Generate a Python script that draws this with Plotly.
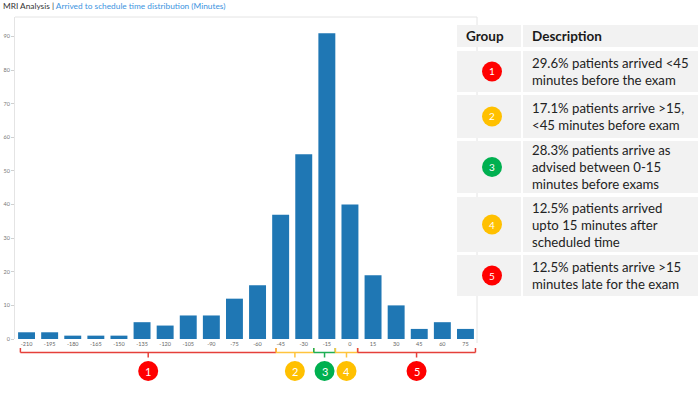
import plotly.graph_objects as go

# ---------------- data ----------------
minutes = [-210, -195, -180, -165, -150, -135, -120, -105, -90, -75,
           -60, -45, -30, -15, 0, 15, 30, 45, 60, 75]
patients = [2, 2, 1, 1, 1, 5, 4, 7, 7, 12, 16, 37, 55, 91, 40, 19, 10, 3, 5, 3]
y_ticks = [0, 10, 20, 30, 40, 50, 60, 70, 80, 90]
group_ids = ["1", "2", "3", "4", "5"]
group_desc = [
    "29.6% patients arrived &lt;45<br>minutes before the exam",
    "17.1% patients arrive &gt;15,<br>&lt;45 minutes before exam",
    "28.3% patients arrive as<br>advised between 0-15<br>minutes before exams",
    "12.5% patients arrived<br>upto 15 minutes after<br>scheduled time",
    "12.5% patients arrive &gt;15<br>minutes late for the exam",
]
title_a = "MRI Analysis | "
title_b = "Arrived to schedule time distribution (Minutes)"

# ---------------- layout / style ----------------
W, H = 700, 394
ML, MR, MT, MB = 15, 223, 17, 55
PW, PH = W - ML - MR, H - MT - MB
BOTTOM = H - MB
X_RANGE = [-217.5, 82.5]

def px_x(px):
    return (px - ML) / PW

def px_y(py):
    return (BOTTOM - py) / PH

def x_per_px():
    return (X_RANGE[1] - X_RANGE[0]) / PW

group_colors = ["#ff0000", "#ffc000", "#00b050", "#ffc000", "#ff0000"]
bracket_colors = ["#e5403a", "#ffc43d", "#1fae55", "#ffc43d", "#e5403a"]
# bracket edges in x-axis (minute) units
bracket_edges = [-214, -48, -23.5, -9.5, 5, 81.5]

fig = go.Figure()
fig.add_trace(go.Bar(x=minutes, y=patients, width=11, marker_color="#1f77b4",
                     marker_line_width=0, hoverinfo="x+y"))

shapes = []
annotations = []
# chart frame (top + right)
shapes.append(dict(type="line", xref="paper", yref="paper", x0=0, x1=1, y0=1, y1=1,
                   line=dict(color="#e4e4e4", width=1)))
shapes.append(dict(type="line", xref="paper", yref="paper", x0=1, x1=1, y0=px_y(343), y1=1,
                   line=dict(color="#e4e4e4", width=1)))

# brackets
y_line = px_y(352.5)
y_up = px_y(348)
y_down = px_y(357.5)
CR = 10
circle_py = 371
for i in range(5):
    a, b = bracket_edges[i], bracket_edges[i + 1]
    m = (a + b) / 2
    c = bracket_colors[i]
    ln = dict(color=c, width=1.5)
    shapes.append(dict(type="line", xref="x", yref="paper", x0=a, x1=b, y0=y_line, y1=y_line, line=ln))
    shapes.append(dict(type="line", xref="x", yref="paper", x0=a, x1=a, y0=y_up, y1=y_line, line=ln))
    shapes.append(dict(type="line", xref="x", yref="paper", x0=b, x1=b, y0=y_up, y1=y_line, line=ln))
    shapes.append(dict(type="line", xref="x", yref="paper", x0=m, x1=m, y0=y_line, y1=y_down, line=ln))
    r = CR * x_per_px()
    shapes.append(dict(type="circle", xref="x", yref="paper",
                       x0=m - r, x1=m + r, y0=px_y(circle_py + CR), y1=px_y(circle_py - CR),
                       fillcolor=group_colors[i], line_width=0))
    annotations.append(dict(xref="x", yref="paper", x=m, y=px_y(circle_py),
                            xanchor="center", yanchor="middle", showarrow=False,
                            text=group_ids[i], font=dict(family="Lato", size=11, color="white")))

# table
TX0, TX1, TX2, TX3 = 457, 521, 523, 698
header = (25, 47)
rows = [(51, 92), (95, 138), (141, 193), (197, 252), (255, 296)]
cell_fill = "#f2f2f2"
for (y0, y1) in [header] + rows:
    shapes.append(dict(type="rect", xref="paper", yref="paper", layer="above",
                       x0=px_x(TX0), x1=px_x(TX1), y0=px_y(y1), y1=px_y(y0),
                       fillcolor=cell_fill, line_width=0))
    shapes.append(dict(type="rect", xref="paper", yref="paper", layer="above",
                       x0=px_x(TX2), x1=px_x(TX3), y0=px_y(y1), y1=px_y(y0),
                       fillcolor=cell_fill, line_width=0))

annotations.append(dict(xref="paper", yref="paper", x=px_x(1), y=px_y(6),
                        xanchor="left", yanchor="middle", showarrow=False,
                        text=title_a + "<span style='color:#3d94e0'>" + title_b + "</span>",
                        font=dict(family="Lato", size=8.3, color="#333333")))
hy = (header[0] + header[1]) / 2
annotations.append(dict(xref="paper", yref="paper", x=px_x(464), y=px_y(hy),
                        xanchor="left", yanchor="middle", showarrow=False,
                        text="<b>Group</b>", font=dict(family="Lato", size=13.5, color="#1a1a1a")))
annotations.append(dict(xref="paper", yref="paper", x=px_x(530), y=px_y(hy),
                        xanchor="left", yanchor="middle", showarrow=False,
                        text="<b>Description</b>", font=dict(family="Lato", size=13.5, color="#1a1a1a")))
for i, (y0, y1) in enumerate(rows):
    cy = (y0 + y1) / 2
    cx = 492
    shapes.append(dict(type="circle", xref="paper", yref="paper", layer="above",
                       x0=px_x(cx - CR), x1=px_x(cx + CR), y0=px_y(cy + CR), y1=px_y(cy - CR),
                       fillcolor=group_colors[i], line_width=0))
    annotations.append(dict(xref="paper", yref="paper", x=px_x(cx), y=px_y(cy),
                            xanchor="center", yanchor="middle", showarrow=False,
                            text=group_ids[i], font=dict(family="Lato", size=10, color="white")))
    annotations.append(dict(xref="paper", yref="paper", x=px_x(530), y=px_y(cy),
                            xanchor="left", yanchor="middle", align="left", showarrow=False,
                            text=group_desc[i], font=dict(family="Lato", size=13.2, color="#222222")))

fig.update_layout(
    width=W, height=H, margin=dict(l=ML, r=MR, t=MT, b=MB, pad=0, autoexpand=False),
    paper_bgcolor="white", plot_bgcolor="white", showlegend=False,
    shapes=shapes, annotations=annotations,
    xaxis=dict(range=X_RANGE, tickvals=minutes, ticktext=[str(m) for m in minutes],
               showgrid=False, zeroline=False, showline=False, ticks="", automargin=False,
               tickfont=dict(family="Lato", size=5.5, color="#666666")),
    yaxis=dict(range=[0, 95.8], tickvals=y_ticks, showgrid=False, zeroline=False,
               showline=True, linecolor="#e4e4e4", linewidth=1, automargin=False,
               ticks="outside", ticklen=3, tickcolor="#d0d0d0",
               tickfont=dict(family="Lato", size=5.5, color="#777777")),
)

fig.write_html("out.html", config={"displayModeBar": False},
               post_script="document.body.style.margin='0';document.body.style.overflow='hidden';")
